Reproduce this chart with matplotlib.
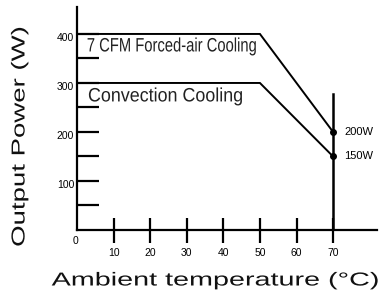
import matplotlib
matplotlib.use("Agg")
import matplotlib.pyplot as plt
import matplotlib.transforms as mtrans
from matplotlib.patheffects import AbstractPathEffect
from matplotlib.transforms import Affine2D

# Data
temps = [0, 50, 70]
forced_air = [400, 400, 200]
convection = [300, 300, 150]
x_ticks = [10, 20, 30, 40, 50, 60, 70]
y_major = [100, 200, 300, 400]
y_minor = [50, 150, 250, 350]
end_labels = ["200W", "150W"]
curve_labels = ["7 CFM Forced-air Cooling", "Convection Cooling"]


class Stretch(AbstractPathEffect):
    """Scale drawn text about its centre: along the text direction to a target
    length in pixels, and across it by a fixed factor."""

    def __init__(self, length, cross=1.0, vertical=False):
        super().__init__()
        self.length = length
        self.cross = cross
        self.vertical = vertical

    def draw_path(self, renderer, gc, tpath, affine, rgbFace=None):
        v = affine.transform(tpath.vertices)
        if len(v) == 0:
            return
        cx = 0.5 * (v[:, 0].min() + v[:, 0].max())
        cy = 0.5 * (v[:, 1].min() + v[:, 1].max())
        i = 1 if self.vertical else 0
        span = max(v[:, i].max() - v[:, i].min(), 1e-6)
        s = self.length / span
        sx, sy = (self.cross, s) if self.vertical else (s, self.cross)
        t = Affine2D().translate(-cx, -cy).scale(sx, sy).translate(cx, cy)
        renderer.draw_path(gc, tpath, affine + t, rgbFace)


plt.rcParams['font.family'] = ['Liberation Sans', 'DejaVu Sans']

W, H = 379, 298
fig = plt.figure(figsize=(W / 100, H / 100), dpi=100)
x0, y0, x1, y1 = 77, 230, 377, 7
ax = fig.add_axes([x0 / W, (H - y0) / H, (x1 - x0) / W, (y0 - y1) / H])
ax.set_xlim(0, 82)
ax.set_ylim(0, 455)

for s in ['top', 'right']:
    ax.spines[s].set_visible(False)
for s in ['left', 'bottom']:
    ax.spines[s].set_linewidth(1.6)
    ax.spines[s].set_color('black')

ax.plot(temps, forced_air, color='black', lw=1.4, solid_joinstyle='miter')
ax.plot(temps, convection, color='black', lw=1.4, solid_joinstyle='miter')
ax.plot([70, 70], [0, 277], color='black', lw=1.8)
ax.plot([temps[-1]] * 2, [forced_air[-1], convection[-1]], 'o', color='black', ms=4)

ax.text(73, forced_air[-1], end_labels[0], fontsize=8, va='center', ha='left')
ax.text(73, convection[-1], end_labels[1], fontsize=8, va='center', ha='left')

ax.text(26.1, 375, curve_labels[0], fontsize=10.5, va='center', ha='center',
        color='#222222', path_effects=[Stretch(169, cross=1.33)])
ax.text(24.3, 273, curve_labels[1], fontsize=10.5, va='center', ha='center',
        color='#222222', path_effects=[Stretch(154, cross=1.33)])

ax.set_xticks(x_ticks)
ax.set_xticklabels([str(v) for v in x_ticks], fontsize=7.5)
ax.tick_params(axis='x', direction='inout', length=18, width=1.6, pad=4)

ax.set_yticks(y_major)
ax.set_yticklabels([str(v) for v in y_major], fontsize=7.5)
ax.set_yticks(y_minor, minor=True)
ax.tick_params(axis='y', which='both', direction='in', length=16, width=1.6, pad=2)
offset = mtrans.ScaledTranslation(0, -2.0 / 72, fig.dpi_scale_trans)
for lab in ax.get_yticklabels():
    lab.set_transform(lab.get_transform() + offset)

ax.text(-0.5, -22, "0", fontsize=7.5, ha='center', va='center')

fig.text(20 / W, 1 - 137 / H, "Output Power (W)", rotation=90, fontsize=13.5,
         ha='center', va='center', color='#111111',
         path_effects=[Stretch(219, vertical=True)])
fig.text(215 / W, 1 - 281 / H, "Ambient temperature (°C)", fontsize=13.5,
         ha='center', va='center', color='#111111',
         path_effects=[Stretch(326)])

fig.savefig("out.png", dpi=100)
